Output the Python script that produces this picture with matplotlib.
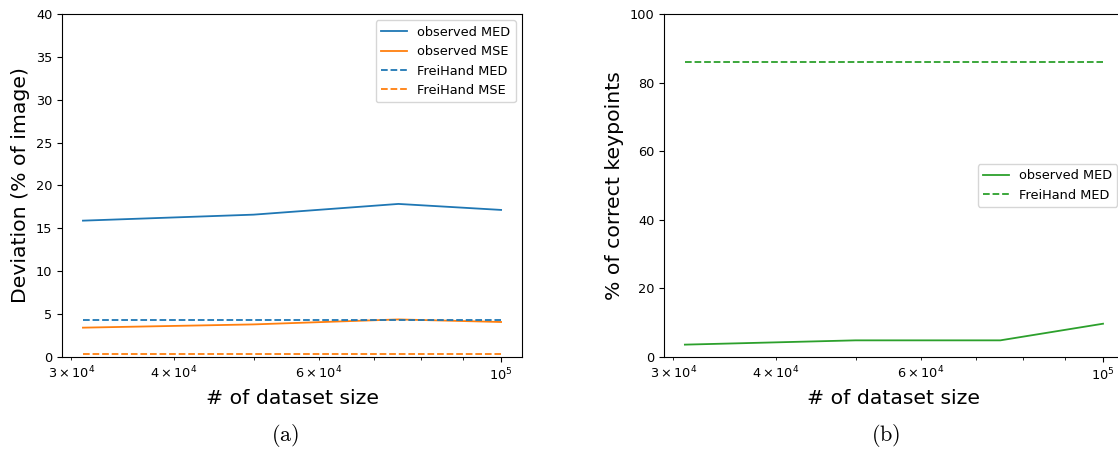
import numpy as np
import matplotlib
matplotlib.use('Agg')
import matplotlib.pyplot as plt

plt.rcParams['mathtext.fontset'] = 'cm'

# training set sizes used in the sweep
dataset_size = [31000, 50000, 75000, 100000]

# deviation (% of image)
obs_med = [15.9, 16.6, 17.85, 17.15]
obs_mse = [3.42, 3.8, 4.38, 4.08]
frei_med = [4.28, 4.28, 4.28, 4.28]
frei_mse = [0.38, 0.38, 0.38, 0.38]

# % of correct keypoints
pck_obs = [3.6, 4.85, 4.85, 9.7]
pck_frei = [86.0, 86.0, 86.0, 86.0]

LW = 1.3
TICK_FS = 9.3
LABEL_FS = 14.7

fig = plt.figure(figsize=(11.18, 4.5), dpi=100)
ax_a = fig.add_axes([0.0555, 0.2067, 0.4114, 0.7622])
# right panel runs slightly past the figure edge
ax_b = fig.add_axes([0.5939, 0.2067, 0.4114, 0.7622])

ax_a.plot(dataset_size, obs_med, color='tab:blue', lw=LW, label='observed MED')
ax_a.plot(dataset_size, obs_mse, color='tab:orange', lw=LW, label='observed MSE')
ax_a.plot(dataset_size, frei_med, color='tab:blue', lw=LW, ls='--', label='FreiHand MED')
ax_a.plot(dataset_size, frei_mse, color='tab:orange', lw=LW, ls='--', label='FreiHand MSE')
ax_a.set_xscale('log')
ax_a.set_ylim(0, 40)
ax_a.set_xlabel('# of dataset size', fontsize=LABEL_FS)
ax_a.set_ylabel('Deviation (% of image)', fontsize=LABEL_FS)
ax_a.legend(loc='upper right', fontsize=TICK_FS)

ax_b.plot(dataset_size, pck_obs, color='tab:green', lw=LW, label='observed MED')
ax_b.plot(dataset_size, pck_frei, color='tab:green', lw=LW, ls='--', label='FreiHand MED')
ax_b.set_xscale('log')
ax_b.set_ylim(0, 100)
ax_b.set_xlabel('# of dataset size', fontsize=LABEL_FS)
ax_b.set_ylabel('% of correct keypoints', fontsize=LABEL_FS)
ax_b.legend(loc='center right', fontsize=TICK_FS)

for ax in (ax_a, ax_b):
    ax.tick_params(axis='both', which='both', labelsize=TICK_FS)

fig.text(0.255, 0.033, r'$(\mathrm{a})$', fontsize=16, ha='center', va='center')
fig.text(0.7925, 0.033, r'$(\mathrm{b})$', fontsize=16, ha='center', va='center')

fig.savefig('out.png', dpi=100)
